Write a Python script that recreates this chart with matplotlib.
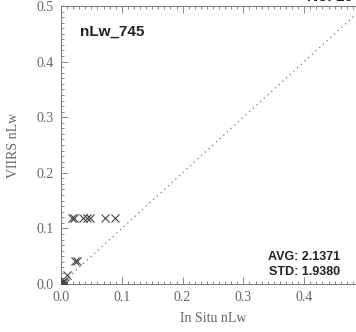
import matplotlib
matplotlib.use("Agg")
import matplotlib.pyplot as plt
from matplotlib.ticker import MultipleLocator, FormatStrFormatter

# data
insitu = [0.002, 0.003, 0.004, 0.005, 0.006, 0.010, 0.023, 0.027,
          0.018, 0.021, 0.036, 0.042, 0.048, 0.072, 0.089]
viirs = [0.002, 0.004, 0.003, 0.005, 0.002, 0.016, 0.041, 0.041,
         0.118, 0.118, 0.118, 0.118, 0.118, 0.118, 0.118]
line_x = [0.0, 0.5]
line_y = [0.0, 0.5]
band_label = "nLw_745"
avg_text = "AVG: 2.1371"
std_text = "STD: 1.9380"
count_text = "No. 10"
x_label = "In Situ nLw"
y_label = "VIIRS nLw"

fig = plt.figure(figsize=(3.56, 3.32), dpi=100)
ax = fig.add_axes([61/356, 48/332, 304/356, 278/332])
ax.set_xlim(0, 0.5)
ax.set_ylim(0, 0.5)

ax.plot(line_x, line_y, linestyle=(0, (1, 3)), color="#777777", linewidth=0.9)
ax.scatter(insitu, viirs, marker="x", s=34, color="#444444", linewidths=0.8, zorder=3)

ax.xaxis.set_major_locator(MultipleLocator(0.1))
ax.yaxis.set_major_locator(MultipleLocator(0.1))
ax.xaxis.set_minor_locator(MultipleLocator(0.01))
ax.yaxis.set_minor_locator(MultipleLocator(0.01))
ax.xaxis.set_major_formatter(FormatStrFormatter("%.1f"))
ax.yaxis.set_major_formatter(FormatStrFormatter("%.1f"))
ax.tick_params(which="both", direction="in", top=True, right=False,
               color="#777777", width=0.6)
ax.tick_params(which="major", length=5, labelsize=10, labelcolor="#666666", pad=5)
ax.tick_params(which="minor", length=2.5)
for lab in ax.get_xticklabels() + ax.get_yticklabels():
    lab.set_family("Liberation Serif")
for name, s in ax.spines.items():
    s.set_color("#777777")
    s.set_linewidth(0.7)
ax.spines["right"].set_visible(False)

ax.set_xlabel(x_label, family="Liberation Serif", fontsize=10, color="#666666", labelpad=6)
ax.set_ylabel(y_label, family="Liberation Serif", fontsize=10, color="#666666", labelpad=12)

ax.text(0.031, 0.454, band_label, family="Liberation Sans", fontsize=11,
        fontweight="bold", color="#222222", va="center", ha="left")
ax.text(0.459, 0.048, avg_text, family="Liberation Sans", fontsize=9,
        fontweight="bold", color="#222222", va="center", ha="right")
ax.text(0.459, 0.022, std_text, family="Liberation Sans", fontsize=9,
        fontweight="bold", color="#222222", va="center", ha="right")
ax.text(0.405, 0.503, count_text, family="Liberation Sans", fontsize=11,
        fontweight="bold", color="#222222", va="bottom", ha="left")

fig.savefig("out.png", dpi=100)
